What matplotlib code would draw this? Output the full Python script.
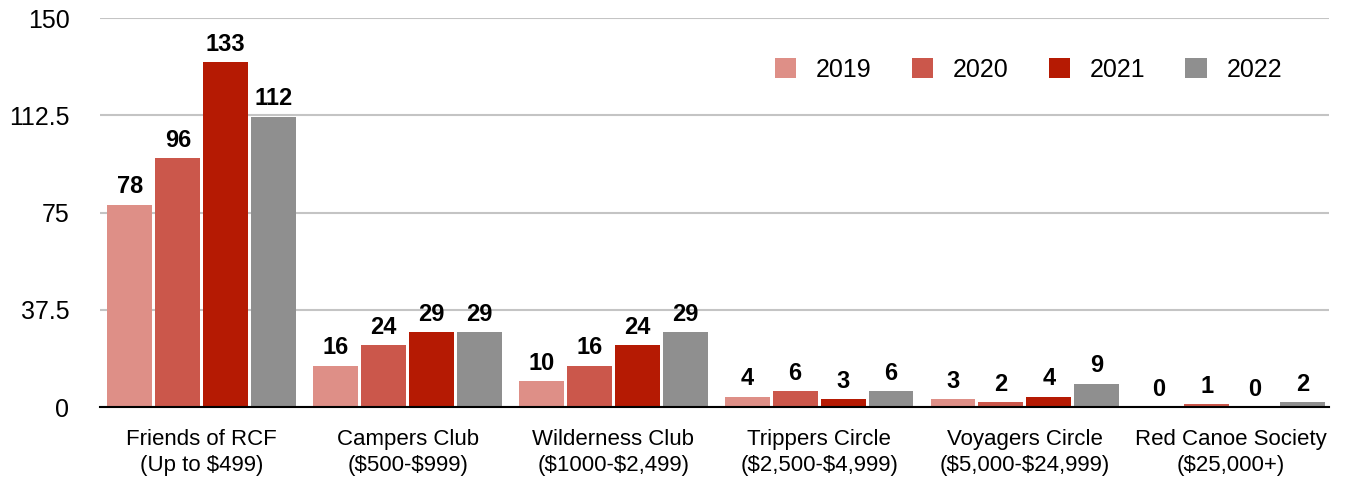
import numpy as np
import matplotlib.pyplot as plt

plt.rcParams['font.family'] = ['Liberation Sans', 'DejaVu Sans']
plt.rcParams['text.parse_math'] = False

categories = ['Friends of RCF\n(Up to $499)', 'Campers Club\n($500-$999)',
              'Wilderness Club\n($1000-$2,499)', 'Trippers Circle\n($2,500-$4,999)',
              'Voyagers Circle\n($5,000-$24,999)', 'Red Canoe Society\n($25,000+)']
years = ['2019', '2020', '2021', '2022']
v2019 = [78, 16, 10, 4, 3, 0]
v2020 = [96, 24, 16, 6, 2, 1]
v2021 = [133, 29, 24, 3, 4, 0]
v2022 = [112, 29, 29, 6, 9, 2]
colors = ['#de8f87', '#cb574b', '#b51a03', '#8f8f8f']

fig = plt.figure(figsize=(13.51, 4.82), dpi=100)
ax = fig.add_axes([0.074, 0.1556, 0.91, 0.807])

x = np.arange(len(categories))
width = 0.218
step = 0.233
for i, (vals, c, yr) in enumerate(zip([v2019, v2020, v2021, v2022], colors, years)):
    pos = x + (i - 1.5) * step
    ax.bar(pos, vals, width, color=c, label=yr, zorder=3)
    for p, v in zip(pos, vals):
        ax.annotate(str(v), (p, v), xytext=(0, 4.5), textcoords='offset points',
                    ha='center', va='bottom', fontsize=17, fontweight='bold')

ax.set_ylim(0, 150)
ax.set_xlim(-0.495, 5.48)
ax.set_yticks([0, 37.5, 75, 112.5, 150])
ax.set_yticklabels(['0', '37.5', '75', '112.5', '150'])
ax.set_xticks(x)
ax.set_xticklabels(categories, fontsize=16, linespacing=1.3)
ax.tick_params(axis='y', length=0, labelsize=18, pad=22)
ax.tick_params(axis='x', length=0, pad=16)
ax.grid(axis='y', color='#c4c4c4', linewidth=1.5, zorder=0)
for s in ['top', 'right', 'left']:
    ax.spines[s].set_visible(False)
ax.spines['bottom'].set_linewidth(1.5)
ax.spines['bottom'].set_zorder(4)

ax.legend(loc='upper right', bbox_to_anchor=(0.98, 0.955), ncol=4, frameon=False,
          fontsize=18, handlelength=0.85, handleheight=0.85, handletextpad=0.8,
          columnspacing=1.6)

fig.savefig('out.png', dpi=100)
